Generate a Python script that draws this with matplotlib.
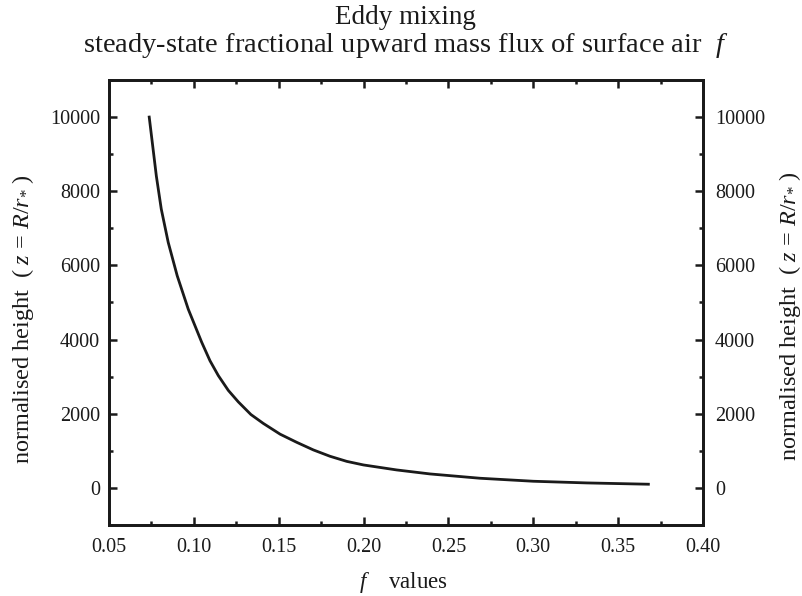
import matplotlib
matplotlib.use("Agg")
import matplotlib.pyplot as plt
from matplotlib.ticker import MultipleLocator

plt.rcParams['font.family'] = ['Liberation Serif', 'DejaVu Serif']
plt.rcParams['mathtext.fontset'] = 'custom'
plt.rcParams['mathtext.rm'] = 'Liberation Serif'
plt.rcParams['mathtext.it'] = 'Liberation Serif:italic'

# data
f_values = [0.0737, 0.0779, 0.0808, 0.0849, 0.0902, 0.0967, 0.1046, 0.1095,
            0.1144, 0.1203, 0.1262, 0.1336, 0.1409, 0.1508, 0.1606, 0.1704,
            0.1802, 0.1901, 0.1999, 0.2195, 0.2392, 0.2686, 0.3000, 0.3315,
            0.3678]
z_values = [10000, 8410, 7520, 6620, 5720, 4820, 3930, 3430,
            3030, 2630, 2320, 1980, 1740, 1450, 1230, 1025,
            854, 716, 620, 485, 377, 261, 180, 135,
            100]
x_ticks = [0.05, 0.10, 0.15, 0.20, 0.25, 0.30, 0.35, 0.40]
y_ticks = [0, 2000, 4000, 6000, 8000, 10000]

ink = '#1a1a1a'
fig = plt.figure(figsize=(8.02, 5.96), dpi=100)
ax = fig.add_axes([0.1359, 0.1191, 0.7407, 0.7467])
ax.plot(f_values, z_values, color=ink, lw=2.0, solid_joinstyle='round')

ax.set_xlim(0.05, 0.40)
ax.set_ylim(-1000, 11000)
ax.set_xticks(x_ticks)
ax.set_xticklabels([f"{v:.2f}" for v in x_ticks])
ax.set_yticks(y_ticks)
ax.xaxis.set_minor_locator(MultipleLocator(0.025))
ax.yaxis.set_minor_locator(MultipleLocator(1000))

for s in ax.spines.values():
    s.set_linewidth(2.0)
    s.set_color(ink)
ax.tick_params(which='both', direction='in', top=True, right=True,
               labelsize=14.5, colors=ink, width=1.8)
ax.tick_params(which='major', length=6)
ax.tick_params(which='minor', length=3)
ax.tick_params(axis='y', which='major', pad=6.5)
ax.tick_params(axis='x', which='major', pad=9)

# right-hand tick labels
ax2 = ax.twinx()
ax2.set_ylim(ax.get_ylim())
ax2.set_yticks(y_ticks)
ax2.yaxis.set_minor_locator(MultipleLocator(1000))
ax2.tick_params(which='both', direction='in', labelsize=14.5, colors=ink, width=1.8)
ax2.tick_params(which='major', length=6, pad=8.5)
ax2.tick_params(which='minor', length=3)
for s in ax2.spines.values():
    s.set_linewidth(2.0)
    s.set_color(ink)

ylabel = r'normalised height  $(\;z\, =\, R/r_{*}\;)$'
fig.text(0.029, 0.465, ylabel, rotation=90, fontsize=17.5, color=ink,
         ha='center', va='center')
fig.text(0.985, 0.47, ylabel, rotation=90, fontsize=17.5, color=ink,
         ha='center', va='center')
fig.text(0.503, 1 - 588 / 596, r'$f$    values', fontsize=16.5, color=ink,
         ha='center', va='baseline')
fig.text(0.506, 1 - 24 / 596, 'Eddy mixing', fontsize=19.5, color=ink,
         ha='center', va='baseline')
fig.text(0.506, 1 - 52 / 596,
         'steady-state fractional upward mass flux of surface air  $f$',
         fontsize=20.5, color=ink, ha='center', va='baseline')

fig.savefig('out.png', dpi=100)
